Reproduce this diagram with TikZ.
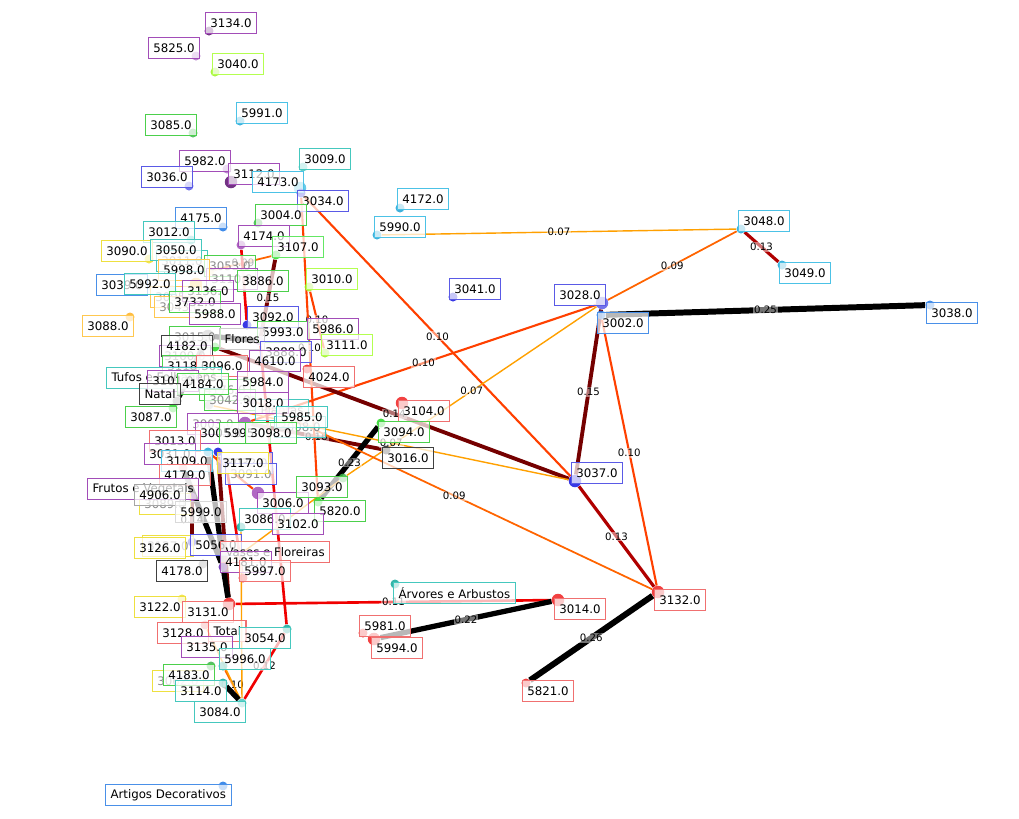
\documentclass[tikz,border=0pt]{standalone}
\usepackage{fontspec}
\setmainfont{DejaVu Sans}
\usetikzlibrary{backgrounds}
% node colours
\definecolor{cpurple}{HTML}{A24DB8}
\definecolor{cdkpurple}{HTML}{5A0F6E}
\definecolor{cltpurple}{HTML}{B070C8}
\definecolor{cviolet}{HTML}{6020B0}
\definecolor{cblue}{HTML}{1515E0}
\definecolor{cbluev}{HTML}{5A5AE6}
\definecolor{cazure}{HTML}{1E78E6}
\definecolor{cazureb}{HTML}{4A90E8}
\definecolor{ccyan}{HTML}{1CA3D6}
\definecolor{ccyanb}{HTML}{4CC2E6}
\definecolor{cteal}{HTML}{12A89A}
\definecolor{ctealb}{HTML}{45C8BE}
\definecolor{cgreen}{HTML}{3CB44B}
\definecolor{cgreenb}{HTML}{4CD04C}
\definecolor{cbrgreen}{HTML}{22DD22}
\definecolor{cygreen}{HTML}{9CF020}
\definecolor{cygreenb}{HTML}{B4FF50}
\definecolor{cyellow}{HTML}{F0E030}
\definecolor{cyellowb}{HTML}{EEE040}
\definecolor{corange}{HTML}{FFB020}
\definecolor{corangeb}{HTML}{FFC850}
\definecolor{cred}{HTML}{F02020}
\definecolor{credb}{HTML}{F07070}
\definecolor{cgrey}{HTML}{8A8A8A}
\definecolor{cdkgrey}{HTML}{404040}
% edge colours by weight
\definecolor{wcola}{HTML}{FFA000}
\definecolor{wcolb}{HTML}{FF6400}
\definecolor{wcolc}{HTML}{FF4000}
\definecolor{wcold}{HTML}{F00000}
\definecolor{wcole}{HTML}{B00000}
\definecolor{wcolf}{HTML}{750000}
\tikzstyle{nodedot} = [circle, inner sep=0pt, minimum size=0.18cm, fill opacity=0.85]
\tikzstyle{bigdot} = [nodedot, minimum size=0.25cm]
\tikzstyle{lbl} = [rectangle, fill=white, fill opacity=0.72, text opacity=1, line width=0.6pt,
                   minimum height=0.42cm, inner xsep=0.1cm, inner ysep=0pt, font=\fontsize{6.7}{7}\selectfont]
\tikzstyle{faded} = [lbl, text=black!45]
\tikzstyle{wlbl} = [font=\fontsize{5.8}{6}\selectfont, inner sep=0.6pt, midway,
                    fill=white, fill opacity=0.45, text opacity=1]
\tikzstyle{wa} = [draw=wcola, line width=0.8pt]
\tikzstyle{wb} = [draw=wcolb, line width=1pt]
\tikzstyle{wc} = [draw=wcolc, line width=1.2pt]
\tikzstyle{wd} = [draw=wcold, line width=1.5pt]
\tikzstyle{we} = [draw=wcole, line width=1.8pt]
\tikzstyle{wf} = [draw=wcolf, line width=2.2pt]
\tikzstyle{wg} = [draw=black, line width=3pt]
\tikzstyle{wh} = [draw=black, line width=3.4pt]
\begin{document}
\begin{tikzpicture}[x=0.02cm, y=-0.02cm]
\useasboundingbox (0,0) rectangle (1019,819);
% dots
\node[nodedot, fill=cdkpurple] (d3134) at (209,31) {};
\node[nodedot, fill=cltpurple] (d5825) at (196,56) {};
\node[nodedot, fill=cygreen] (d3040) at (215,72) {};
\node[nodedot, fill=ccyan] (d5991) at (240,121) {};
\node[nodedot, fill=cgreen] (d3085) at (193,133) {};
\node[nodedot, fill=cltpurple] (d5982) at (227,169) {};
\node[nodedot, fill=cbluev] (d3036) at (189,186) {};
\node[bigdot, fill=cdkpurple] (d3112) at (231,182) {};
\node[nodedot, fill=ctealb] (d3009) at (303,167) {};
\node[bigdot, fill=ccyanb] (d4173) at (300,188) {};
\node[nodedot, fill=cblue] (d3034) at (301,193) {};
\node[nodedot, fill=ccyan] (d4172) at (400,208) {};
\node[nodedot, fill=ccyan] (d5990) at (377,235) {};
\node[nodedot, fill=cazure] (d4175) at (223,227) {};
\node[nodedot, fill=cgreen] (d3004) at (258,223) {};
\node[nodedot, fill=ctealb] (d3012) at (191,240) {};
\node[nodedot, fill=cpurple] (d4174) at (241,245) {};
\node[nodedot, fill=cbrgreen] (d3107) at (276,255) {};
\node[nodedot, fill=cyellow] (d3090) at (149,259) {};
\node[nodedot, fill=corangeb] (d5998) at (210,271) {};
\node[nodedot, fill=cygreen] (d3010) at (309,287) {};
\node[nodedot, fill=ctealb] (d5992) at (172,290) {};
\node[bigdot, fill=corangeb] (d3136) at (196,284) {};
\node[nodedot, fill=corange] (d3088) at (130,317) {};
\node[nodedot, fill=cblue] (d3092) at (247,325) {};
\node[nodedot, fill=cltpurple] (d4610) at (260,341) {};
\node[nodedot, fill=cygreen] (d3111) at (325,353) {};
\node[bigdot, fill=cgrey] (dFlores) at (208,336) {};
\node[nodedot, fill=cbrgreen] (d3015) at (215,347) {};
\node[nodedot, fill=cred] (d4024) at (307,369) {};
\node[nodedot, fill=black!25] (d4176) at (209,405) {};
\node[nodedot, fill=cgrey] (dNatal) at (177,401) {};
\node[nodedot, fill=cbrgreen] (d3087) at (173,408) {};
\node[nodedot, fill=cpurple] (d3018) at (252,400) {};
\node[bigdot, fill=cpurple] (d5995) at (245,423) {};
\node[nodedot, fill=ccyan] (d3109) at (208,452) {};
\node[nodedot, fill=cblue] (d3031) at (218,452) {};
\node[nodedot, fill=cltpurple] (d3117) at (226,462) {};
\node[nodedot, fill=cred] (d3013) at (183,468) {};
\node[bigdot, fill=cpurple] (d3006) at (258,493) {};
\node[nodedot, fill=cgreen] (d3093) at (343,478) {};
\node[nodedot, fill=cbrgreen] (d5820) at (318,502) {};
\node[nodedot, fill=cpurple] (dFrutos) at (192,497) {};
\node[nodedot, fill=cteal] (d3086) at (241,527) {};
\node[nodedot, fill=cblue] (d5056) at (192,542) {};
\node[nodedot, fill=cviolet] (d4181) at (223,567) {};
\node[nodedot, fill=cgrey] (d4178) at (203,564) {};
\node[nodedot, fill=cred] (d5997) at (243,578) {};
\node[nodedot, fill=cyellow] (d3122) at (182,599) {};
\node[bigdot, fill=cred] (d3131) at (229,604) {};
\node[nodedot, fill=credb] (dTotal) at (205,625) {};
\node[nodedot, fill=cteal] (d3054) at (287,629) {};
\node[nodedot, fill=cteal] (d5996) at (223,666) {};
\node[nodedot, fill=cgreen] (d4183) at (211,666) {};
\node[nodedot, fill=cteal] (d3114) at (223,683) {};
\node[nodedot, fill=ctealb] (d3084) at (242,703) {};
\node[nodedot, fill=cazure] (dArtigos) at (223,786) {};
\node[nodedot, fill=cblue] (d3041) at (453,297) {};
\node[bigdot, fill=cbluev] (d3028) at (602,303) {};
\node[nodedot, fill=cazure] (d3002) at (601,315) {};
\node[nodedot, fill=cazure] (d3038) at (930,305) {};
\node[nodedot, fill=ccyan] (d3048) at (741,229) {};
\node[nodedot, fill=ccyan] (d3049) at (782,265) {};
\node[bigdot, fill=cred] (d3104) at (402,403) {};
\node[nodedot, fill=cbrgreen] (d3094) at (381,423) {};
\node[nodedot, fill=black!85] (d3016) at (386,450) {};
\node[bigdot, fill=cblue] (d3037) at (575,481) {};
\node[bigdot, fill=cred] (d3132) at (658,592) {};
\node[bigdot, fill=cred] (d3014) at (558,600) {};
\node[nodedot, fill=cteal] (dArvores) at (395,584) {};
\node[nodedot, fill=cred] (d5981) at (363,633) {};
\node[bigdot, fill=cred] (d5994) at (374,639) {};
\node[nodedot, fill=cred] (d5821) at (526,683) {};
% weighted connectors
\begin{scope}[on background layer]
\draw[wa] (d5990) -- (d3048) node[wlbl] {0.07};
\draw[wb] (d3028) -- (d3048) node[wlbl] {0.09};
\draw[we] (d3048) -- (d3049) node[wlbl] {0.13};
\draw[wh] (d3002) -- (d3038) node[wlbl] {0.25};
\draw[wf] (d3028) -- (d3037) node[wlbl] {0.15};
\draw[wc] (d3002) -- (d3132) node[wlbl] {0.10};
\draw[we] (d3037) -- (d3132) node[wlbl] {0.13};
\draw[wc] (d3034) -- (d3037) node[wlbl] {0.10};
\draw[wc] (d3028) -- (d5995) node[wlbl] {0.10};
\draw[wa] (d3028) -- (d3093) node[wlbl] {0.07};
\draw[wf] (d3015) -- (d3037) node[wlbl] {0.14};
\draw[wf] (d5995) -- (d3016) node[wlbl] {0.16};
\draw[wg] (d3094) -- (d5820) node[wlbl] {0.23};
\draw[wa] (d4176) -- (d3037) node[wlbl] {0.07};
\draw[wb] (d3018) -- (d3132) node[wlbl] {0.09};
\draw[wd] (d3131) -- (d3014) node[wlbl] {0.11};
\draw[wg] (d5994) -- (d3014) node[wlbl] {0.22};
\draw[wh] (d5821) -- (d3132) node[wlbl] {0.26};
\draw[wf] (d3107) -- (d4610) node[wlbl] {0.15};
\draw[wb] (d3107) -- (d5998) node[wlbl] {0.09};
\draw[wd] (d4174) -- (d3092);
\draw[wc] (d3010) -- (d3111) node[wlbl] {0.10};
\draw[wc] (d3034) -- (d5820) node[wlbl] {0.10};
\draw[wd] (d4610) -- (d3054);
\draw[wd] (d3054) -- (d3084) node[wlbl] {0.12};
\draw[wb] (d5996) -- (d3084) node[wlbl] {0.10};
\draw[wa] (dTotal) -- (d3084);
\draw[wg] (d3114) -- (d3084);
\draw[wg] (dFlores) -- (dNatal);
\draw[wg] (dFlores) -- (d4610);
\draw[wg] (d3109) -- (d3131);
\draw[wf] (d3031) -- (d3131);
\draw[wg] (d3013) -- (d4181);
\draw[wg] (d4181) -- (d3131);
\draw[wd] (d3117) -- (d5997);
\draw[wa] (d3093) -- (d4181);
\draw[wa] (d3086) -- (d3084);
\draw[wf] (dFrutos) -- (d5056) node[wlbl] {0.14};
\draw[wc] (d3109) -- (d3006);
\end{scope}
% labels behind
\node[faded, draw=ctealb] (l3011) at (182,261) {3011.0};
\node[faded, draw=cgreenb] (l3053) at (230,266) {3053.0};
\node[faded, draw=cpurple] (l3110) at (232,279) {3110.0};
\node[faded, draw=corangeb] (l3095) at (176,297) {3095.0};
\node[faded, draw=corangeb] (l3042b) at (180,307) {3043.0};
\node[faded, draw=cgreenb] (l3015) at (195,337) {3015.0};
\node[faded, draw=cpurple] (l3100) at (185,356) {3100.0};
\node[faded, draw=cgreenb] (l4176) at (225,390) {4176.0};
\node[faded, draw=cgreenb] (l3042) at (230,400) {3042.0};
\node[faded, draw=cpurple] (l3003) at (213,424) {3003.0};
\node[faded, draw=ctealb, anchor=west] (lPlantas) at (255,410) {Plantas};
\node[faded, draw=ctealb] (l3008) at (300,427) {3008.0};
\node[faded, draw=cbluev] (l3032) at (247,463) {3032.0};
\node[faded, draw=cbluev] (l3091) at (251,474) {3091.0};
\node[faded, draw=cyellowb] (l3089) at (165,504) {3089.0};
\node[faded, draw=cyellowb] (l3127) at (168,546) {3127.0};
\node[faded, draw=cyellowb] (l3062) at (178,681) {3062.0};
% labels
\node[lbl, draw=cpurple] (l3134) at (231,23) {3134.0};
\node[lbl, draw=cpurple] (l5825) at (174,48) {5825.0};
\node[lbl, draw=cygreenb] (l3040) at (238,64) {3040.0};
\node[lbl, draw=ccyanb] (l5991) at (262,113) {5991.0};
\node[lbl, draw=cgreenb] (l3085) at (171,125) {3085.0};
\node[lbl, draw=cpurple] (l5982) at (205,161) {5982.0};
\node[lbl, draw=cbluev] (l3036) at (167,177) {3036.0};
\node[lbl, draw=cpurple] (l3112) at (254,174) {3112.0};
\node[lbl, draw=ctealb] (l3009) at (325,159) {3009.0};
\node[lbl, draw=ccyanb] (l4173) at (278,182) {4173.0};
\node[lbl, draw=cbluev] (l3034) at (323,201) {3034.0};
\node[lbl, draw=ccyanb] (l4172) at (423,199) {4172.0};
\node[lbl, draw=ccyanb] (l5990) at (400,227) {5990.0};
\node[lbl, draw=cazureb] (l4175) at (201,218) {4175.0};
\node[lbl, draw=cgreenb] (l3004) at (281,215) {3004.0};
\node[lbl, draw=ctealb] (l3012) at (169,232) {3012.0};
\node[lbl, draw=cpurple] (l4174) at (264,236) {4174.0};
\node[lbl, draw=cbrgreen!70] (l3107) at (298,247) {3107.0};
\node[lbl, draw=cyellowb] (l3090) at (127,251) {3090.0};
\node[lbl, draw=ctealb] (l3050) at (176,250) {3050.0};
\node[lbl, draw=corangeb] (l5998) at (184,270) {5998.0};
\node[lbl, draw=cgreenb] (l3886) at (263,281) {3886.0};
\node[lbl, draw=cygreenb] (l3010) at (332,279) {3010.0};
\node[lbl, draw=cazureb] (l3039) at (122,285) {3039.0};
\node[lbl, draw=ctealb] (l5992) at (150,284) {5992.0};
\node[lbl, draw=cpurple] (l3136) at (208,291) {3136.0};
\node[lbl, draw=cgreenb] (l3732) at (195,302) {3732.0};
\node[lbl, draw=corangeb] (l3088) at (108,326) {3088.0};
\node[lbl, draw=cpurple] (l5988) at (215,314) {5988.0};
\node[lbl, draw=cbluev] (l3092) at (273,317) {3092.0};
\node[lbl, draw=cgreenb] (l5993) at (283,332) {5993.0};
\node[lbl, draw=cpurple] (l5986) at (333,329) {5986.0};
\node[lbl, draw=cygreenb] (l3111) at (347,345) {3111.0};
\node[lbl, draw=black!20, anchor=west] (lFlores) at (219,339) {Flores};
\node[lbl, draw=cdkgrey] (l4182) at (187,346) {4182.0};
\node[lbl, draw=cbluev] (l3888) at (286,352) {3888.0};
\node[lbl, draw=cpurple] (l4610) at (275,361) {4610.0};
\node[lbl, draw=cgreenb] (l3118) at (188,366) {3118.0};
\node[lbl, draw=credb] (l3096) at (222,366) {3096.0};
\node[lbl, draw=credb] (l4024) at (329,377) {4024.0};
\node[lbl, draw=ctealb, anchor=west] (lTufos) at (106,378) {Tufos e Folhagens};
\node[lbl, draw=cpurple] (l3101) at (173,381) {3101.0};
\node[lbl, draw=cgreenb] (l4184) at (203,384) {4184.0};
\node[lbl, draw=cpurple] (l5984) at (263,382) {5984.0};
\node[lbl, draw=cdkgrey, anchor=west] (lNatal) at (139,394) {Natal};
\node[lbl, draw=cgreenb] (l3087) at (151,417) {3087.0};
\node[lbl, draw=cpurple] (l3018) at (263,403) {3018.0};
\node[lbl, draw=ctealb] (l5985) at (302,417) {5985.0};
\node[lbl, draw=cpurple] (l3005) at (221,433) {3005.0};
\node[lbl, draw=cgreenb] (l5995) at (245,433) {5995.0};
\node[lbl, draw=cgreenb] (l3098) at (271,433) {3098.0};
\node[lbl, draw=credb] (l3013) at (175,441) {3013.0};
\node[lbl, draw=cpurple] (l3031) at (170,454) {3031.0};
\node[lbl, draw=ccyanb] (l3109) at (187,461) {3109.0};
\node[lbl, draw=cyellowb] (l3117) at (243,463) {3117.0};
\node[lbl, draw=credb] (l4179) at (185,475) {4179.0};
\node[lbl, draw=cpurple] (l3006) at (283,503) {3006.0};
\node[lbl, draw=cgreenb] (l3093) at (322,487) {3093.0};
\node[lbl, draw=cgreenb] (l5820) at (340,511) {5820.0};
\node[lbl, draw=cpurple, anchor=west] (lFrutos) at (87,489) {Frutos e Vegetais};
\node[lbl, draw=black!35] (l4906) at (160,495) {4906.0};
\node[lbl, draw=black!15] (l5999) at (201,512) {5999.0};
\node[lbl, draw=ctealb] (l3086) at (265,519) {3086.0};
\node[lbl, draw=cpurple] (l3102) at (298,524) {3102.0};
\node[lbl, draw=cyellowb] (l3126) at (160,548) {3126.0};
\node[lbl, draw=cbluev] (l5056) at (216,545) {5056.0};
\node[lbl, draw=credb, anchor=west] (lVases) at (220,552) {Vases e Floreiras};
\node[lbl, draw=cpurple] (l4181) at (246,562) {4181.0};
\node[lbl, draw=cdkgrey] (l4178) at (182,571) {4178.0};
\node[lbl, draw=credb] (l5997) at (265,571) {5997.0};
\node[lbl, draw=cyellowb] (l3122) at (160,607) {3122.0};
\node[lbl, draw=credb] (l3131) at (208,612) {3131.0};
\node[lbl, draw=credb] (l3128) at (183,633) {3128.0};
\node[lbl, draw=credb, anchor=west] (lTotal) at (208,631) {Total};
\node[lbl, draw=ctealb] (l3054) at (265,638) {3054.0};
\node[lbl, draw=cpurple] (l3135) at (207,647) {3135.0};
\node[lbl, draw=ctealb] (l5996) at (245,659) {5996.0};
\node[lbl, draw=cgreenb] (l4183) at (189,675) {4183.0};
\node[lbl, draw=ctealb] (l3114) at (201,691) {3114.0};
\node[lbl, draw=ctealb] (l3084) at (220,712) {3084.0};
\node[lbl, draw=cazureb, anchor=west] (lArtigos) at (105,795) {Artigos Decorativos};
\node[lbl, draw=cbluev] (l3041) at (475,289) {3041.0};
\node[lbl, draw=cbluev] (l3028) at (580,295) {3028.0};
\node[lbl, draw=cazureb] (l3002) at (623,323) {3002.0};
\node[lbl, draw=cazureb] (l3038) at (952,313) {3038.0};
\node[lbl, draw=ccyanb] (l3048) at (764,221) {3048.0};
\node[lbl, draw=ccyanb] (l3049) at (805,273) {3049.0};
\node[lbl, draw=credb] (l3104) at (424,411) {3104.0};
\node[lbl, draw=cgreenb] (l3094) at (404,432) {3094.0};
\node[lbl, draw=cdkgrey] (l3016) at (408,458) {3016.0};
\node[lbl, draw=cbluev] (l3037) at (597,473) {3037.0};
\node[lbl, draw=credb] (l3132) at (680,600) {3132.0};
\node[lbl, draw=credb] (l3014) at (580,609) {3014.0};
\node[lbl, draw=ctealb, anchor=west] (lArvores) at (393,593) {Árvores e Arbustos};
\node[lbl, draw=credb] (l5981) at (385,626) {5981.0};
\node[lbl, draw=credb] (l5994) at (397,648) {5994.0};
\node[lbl, draw=credb] (l5821) at (548,691) {5821.0};
\end{tikzpicture}
\end{document}
